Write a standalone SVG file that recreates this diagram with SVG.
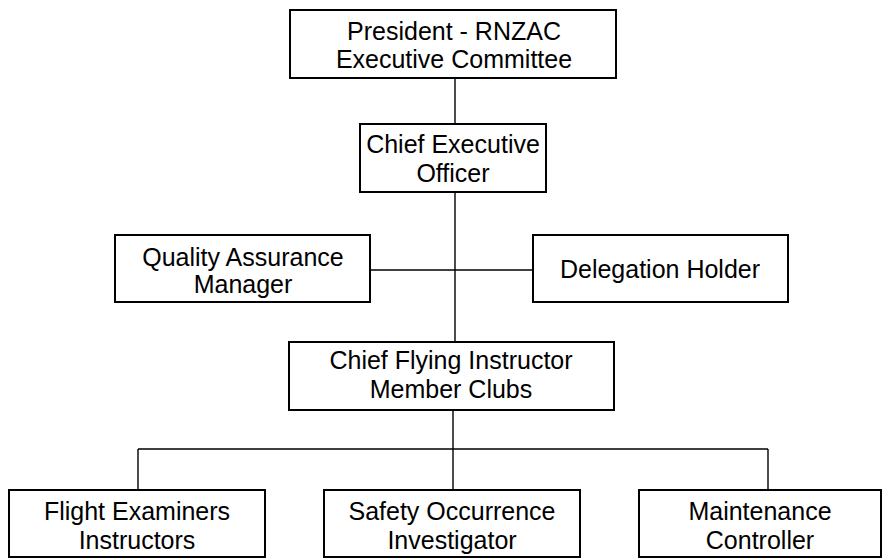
<svg xmlns="http://www.w3.org/2000/svg" width="883" height="559" viewBox="0 0 883 559">
<style>
.box{fill:#fff;stroke:#000;stroke-width:2}
.t{font-family:"Liberation Sans",Arial,sans-serif;font-size:25px;fill:#000;text-anchor:middle}
.c{stroke:#000;stroke-width:1.4;fill:none}
</style>
<rect x="0" y="0" width="883" height="559" fill="#fff"/>
<g id="connectors">
<line class="c" x1="455" y1="78" x2="455" y2="124"/>
<line class="c" x1="455" y1="192" x2="455" y2="342"/>
<line class="c" x1="370" y1="270" x2="533" y2="270"/>
<line class="c" x1="453" y1="410" x2="453" y2="490"/>
<line class="c" x1="138" y1="449" x2="768" y2="449"/>
<line class="c" x1="138" y1="449" x2="138" y2="490"/>
<line class="c" x1="768" y1="449" x2="768" y2="490"/>
</g>
<g id="president">
<rect class="box" x="290" y="10" width="326" height="68"/>
<text class="t" x="454" y="39.5">President - RNZAC</text>
<text class="t" x="454" y="67.5">Executive Committee</text>
</g>
<g id="ceo">
<rect class="box" x="360" y="124" width="186" height="68"/>
<text class="t" x="453" y="153">Chief Executive</text>
<text class="t" x="453" y="182">Officer</text>
</g>
<g id="qam">
<rect class="box" x="115" y="235" width="255" height="67"/>
<text class="t" x="243" y="266">Quality Assurance</text>
<text class="t" x="243" y="293">Manager</text>
</g>
<g id="delegation">
<rect class="box" x="533" y="235" width="255" height="67"/>
<text class="t" x="660" y="277.5">Delegation Holder</text>
</g>
<g id="cfi">
<rect class="box" x="289" y="342" width="325" height="68"/>
<text class="t" x="451" y="369">Chief Flying Instructor</text>
<text class="t" x="451" y="398">Member Clubs</text>
</g>
<g id="flight">
<rect class="box" x="9" y="490" width="256" height="67"/>
<text class="t" x="137" y="519.5">Flight Examiners</text>
<text class="t" x="137" y="548.5">Instructors</text>
</g>
<g id="safety">
<rect class="box" x="324" y="490" width="256" height="67"/>
<text class="t" x="452" y="519.5">Safety Occurrence</text>
<text class="t" x="452" y="548.5">Investigator</text>
</g>
<g id="maintenance">
<rect class="box" x="639" y="490" width="242" height="67"/>
<text class="t" x="760" y="519.5">Maintenance</text>
<text class="t" x="760" y="548.5">Controller</text>
</g>
</svg>
